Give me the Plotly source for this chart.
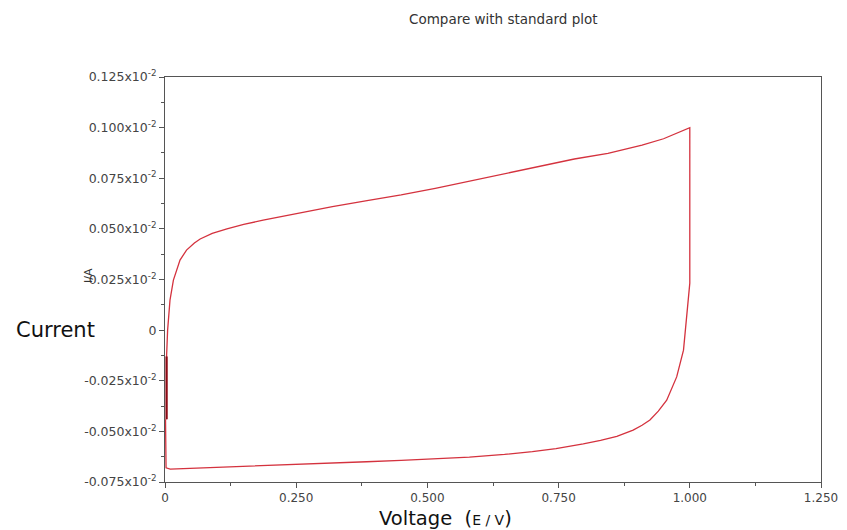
import plotly.graph_objects as go

# Data (current in units of 10^-2 A, voltage in V)
fwd_v = [0.003, 0.003, 0.005, 0.0095, 0.016, 0.0286, 0.041, 0.056, 0.067, 0.09, 0.118, 0.15, 0.187,
         0.219, 0.25, 0.319, 0.385, 0.45, 0.515, 0.581, 0.65, 0.712, 0.78, 0.844, 0.909, 0.95, 1.0]
fwd_i = [-0.044, -0.013, 0.0, 0.0148, 0.0247, 0.0346, 0.0395, 0.0430, 0.0450, 0.0478, 0.0500, 0.0522,
         0.0543, 0.0560, 0.0577, 0.0610, 0.0640, 0.0668, 0.0700, 0.0736, 0.0775, 0.0811, 0.0845, 0.0873,
         0.0913, 0.0945, 0.100]

rev_v = [1.0, 1.0, 0.997, 0.994, 0.988, 0.975, 0.966, 0.956, 0.94, 0.924, 0.909, 0.892, 0.861, 0.83,
         0.797, 0.745, 0.70, 0.647, 0.58, 0.515, 0.45, 0.384, 0.32, 0.253, 0.19, 0.122, 0.06, 0.01,
         0.002, 0.001]
rev_i = [0.100, 0.0232, 0.015, 0.0066, -0.0099, -0.0231, -0.029, -0.0346, -0.040, -0.0444, -0.0470,
         -0.0494, -0.0525, -0.0545, -0.0562, -0.0585, -0.0600, -0.0614, -0.0627, -0.0636, -0.0643,
         -0.0650, -0.0656, -0.0662, -0.0668, -0.0675, -0.0681, -0.0686, -0.068, -0.044]

overlap_v = [0.003, 0.003]
overlap_i = [-0.044, -0.013]

x_tickvals = [0, 0.25, 0.5, 0.75, 1.0, 1.25]
x_ticktext = ["0", "0.250", "0.500", "0.750", "1.000", "1.250"]
y_tickvals = [-0.075, -0.05, -0.025, 0, 0.025, 0.05, 0.075, 0.1, 0.125]
y_ticktext = ["-0.075x10<sup>-2</sup>", "-0.050x10<sup>-2</sup>", "-0.025x10<sup>-2</sup>", "0",
              "0.025x10<sup>-2</sup>", "0.050x10<sup>-2</sup>", "0.075x10<sup>-2</sup>",
              "0.100x10<sup>-2</sup>", "0.125x10<sup>-2</sup>"]

line_color = "rgb(212,50,62)"

fig = go.Figure()
fig.add_trace(go.Scatter(x=fwd_v + rev_v[1:], y=fwd_i + rev_i[1:], mode="lines",
                         line=dict(color=line_color, width=1.3), showlegend=False, hoverinfo="skip"))
fig.add_trace(go.Scatter(x=overlap_v, y=overlap_i, mode="lines",
                         line=dict(color="rgb(140,10,20)", width=2.2), showlegend=False, hoverinfo="skip"))

axis_common = dict(showgrid=False, zeroline=False, showline=True, linecolor="#555", linewidth=1,
                   mirror=True, ticks="outside", ticklen=5, tickcolor="#555", automargin=False)

fig.update_xaxes(range=[0, 1.25], tickvals=x_tickvals, ticktext=x_ticktext,
                 tickfont=dict(family="DejaVu Sans", size=12, color="#444"),
                 minor=dict(dtick=0.125, ticks="outside", ticklen=3, tickcolor="#555", showgrid=False),
                 **axis_common)
fig.update_yaxes(range=[-0.075, 0.125], tickvals=y_tickvals, ticktext=y_ticktext,
                 tickfont=dict(family="DejaVu Sans", size=12.5, color="#444"),
                 minor=dict(dtick=0.0125, tick0=0, ticks="outside", ticklen=3, tickcolor="#555", showgrid=False),
                 **axis_common)

W, H = 847, 530
l, r, t, b = 165, 26, 77, 48
pw, ph = W - l - r, H - t - b


def px_to_paper(px, py):
    return (px - l) / pw, 1 - (py - t) / ph


labels = [
    ("Compare with standard plot", 503, 19, dict(family="DejaVu Sans", size=13.5, color="#333"), 0),
    ("Current", 55, 330, dict(family="DejaVu Sans", size=21, color="#111"), 0),
    ("Voltage  (<span style='font-size:14px'>E / V</span>)", 445, 518,
     dict(family="DejaVu Sans", size=19.5, color="#111"), 0),
    ("I/A", 88, 276, dict(family="DejaVu Sans", size=11, color="#333"), -90),
]
annotations = []
for text, px, py, font, angle in labels:
    ax, ay = px_to_paper(px, py)
    annotations.append(dict(text=text, x=ax, y=ay, xref="paper", yref="paper", showarrow=False,
                            xanchor="center", yanchor="middle", font=font, textangle=angle))

fig.update_layout(
    width=W, height=H,
    margin=dict(l=l, r=r, t=t, b=b),
    paper_bgcolor="white", plot_bgcolor="white",
    annotations=annotations,
)

fig.write_html("out.html")
